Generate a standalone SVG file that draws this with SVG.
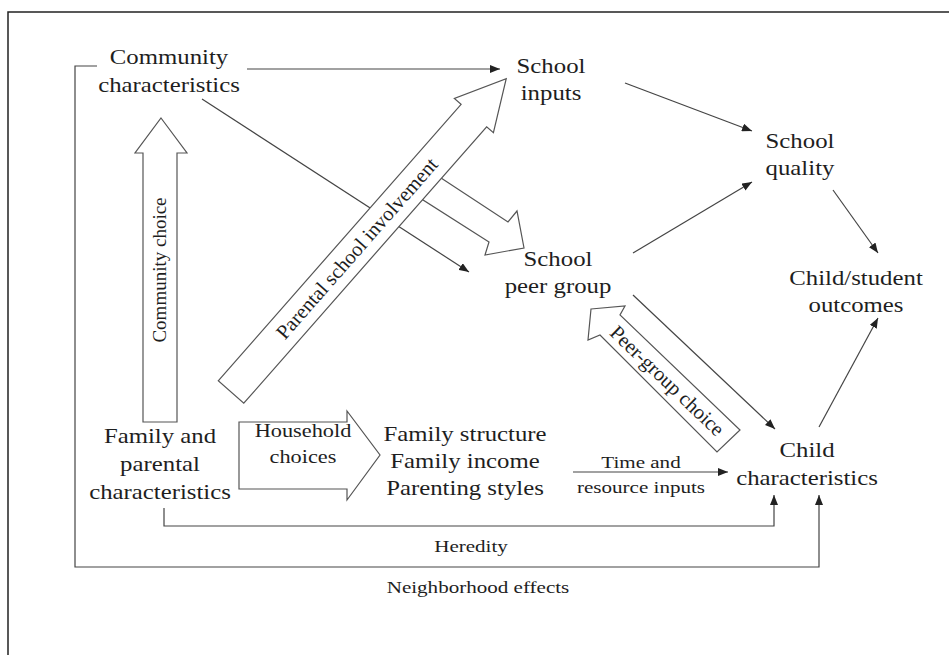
<svg xmlns="http://www.w3.org/2000/svg" width="949" height="655" viewBox="0 0 949 655">
<style>
text{font-family:"Liberation Serif","Times New Roman",serif;fill:#1e1e1e;text-anchor:middle}
.n{font-size:20px}
.s{font-size:17px}
.h{font-size:18px}
.c{fill:none;stroke:#444;stroke-width:1.2}
.b{fill:#fff;stroke:#555;stroke-width:1.2;stroke-linejoin:miter}
</style>
<defs>
<marker id="ah" viewBox="0 0 10 8" refX="10" refY="4" markerWidth="10" markerHeight="8" markerUnits="userSpaceOnUse" orient="auto">
<path d="M0,0 L10,4 L0,8 Z" fill="#222"/>
</marker>
</defs>
<rect x="8" y="12" width="960" height="700" fill="#fff" stroke="#222" stroke-width="1.5"/>

<g id="connectors">
<path class="c" d="M247,69 H500" marker-end="url(#ah)"/>
<path class="c" d="M202,99 L469,272" marker-end="url(#ah)"/>
<path class="c" d="M625,83 L752,131" marker-end="url(#ah)"/>
<path class="c" d="M633,253 L752,182" marker-end="url(#ah)"/>
<path class="c" d="M833,190 L878,253" marker-end="url(#ah)"/>
<path class="c" d="M819,427 L878,318" marker-end="url(#ah)"/>
<path class="c" d="M633,295 L775,429" marker-end="url(#ah)"/>
<path class="c" d="M573,472 H728" marker-end="url(#ah)"/>
<path class="c" d="M164,508 V526 H774 V495" marker-end="url(#ah)"/>
<path class="c" d="M97,66 H75 V567 H819 V495" marker-end="url(#ah)"/>
</g>

<g id="block-arrows">
<g id="community-choice">
<polygon class="b" points="161,118 187,153 177,153 177,422 143,422 143,153 135,153"/>
<text font-size="19" transform="translate(166,270) rotate(-90)">Community choice</text>
</g>
<g id="peer-group-arrow">
<polygon class="b" points="438,176 508,222 517,211 524,248 485,255 489,242 420,198"/>
</g>
<g id="parental-involvement">
<g transform="translate(231,392) rotate(-48.7)">
<polygon class="b" points="0,-17 368,-17 368,-26 417,0 368,26 368,17 0,17"/>
<text font-size="20.5" x="191" y="6.5">Parental school involvement</text>
</g>
</g>
<g id="peer-group-choice">
<polygon class="b" points="591,309 625,306 620,315 740,430 717,452 600,335 588,340"/>
<text font-size="20.5" transform="translate(667,381) rotate(43.8)" y="6.5">Peer-group choice</text>
</g>
<g id="household-choices">
<polygon class="b" points="239,422 347,422 347,411 380,455 347,500 347,489 239,489"/>
<text class="h" transform="matrix(1.24,0,0,1,303,0)"><tspan x="0" y="437">Household</tspan><tspan x="0" y="463">choices</tspan></text>
</g>
</g>

<g id="community">
<text class="n" transform="matrix(1.24,0,0,1,169,0)"><tspan x="0" y="64">Community</tspan><tspan x="0" y="92">characteristics</tspan></text>
</g>
<g id="school-inputs">
<text class="n" transform="matrix(1.24,0,0,1,551,0)"><tspan x="0" y="73">School</tspan><tspan x="0" y="100">inputs</tspan></text>
</g>
<g id="school-quality">
<text class="n" transform="matrix(1.24,0,0,1,800,0)"><tspan x="0" y="148">School</tspan><tspan x="0" y="175">quality</tspan></text>
</g>
<g id="outcomes">
<text class="n" transform="matrix(1.24,0,0,1,856,0)"><tspan x="0" y="285">Child/student</tspan><tspan x="0" y="312">outcomes</tspan></text>
</g>
<g id="peer-group">
<text class="n" transform="matrix(1.24,0,0,1,558,0)"><tspan x="0" y="266">School</tspan><tspan x="0" y="293">peer group</tspan></text>
</g>
<g id="child">
<text class="n" transform="matrix(1.24,0,0,1,807,0)"><tspan x="0" y="457">Child</tspan><tspan x="0" y="485">characteristics</tspan></text>
</g>
<g id="family">
<text class="n" transform="matrix(1.24,0,0,1,160,0)"><tspan x="0" y="443">Family and</tspan><tspan x="0" y="471">parental</tspan><tspan x="0" y="499">characteristics</tspan></text>
</g>
<g id="household">
<text class="n" transform="matrix(1.24,0,0,1,465,0)"><tspan x="0" y="441">Family structure</tspan><tspan x="0" y="468">Family income</tspan><tspan x="0" y="495">Parenting styles</tspan></text>
</g>

<g id="labels">
<text class="s" transform="matrix(1.24,0,0,1,641,0)"><tspan x="0" y="468">Time and</tspan><tspan x="0" y="493">resource inputs</tspan></text>
<text class="s" transform="matrix(1.24,0,0,1,471,0)" x="0" y="552">Heredity</text>
<text class="s" transform="matrix(1.24,0,0,1,478,0)" x="0" y="593">Neighborhood effects</text>
</g>
</svg>
